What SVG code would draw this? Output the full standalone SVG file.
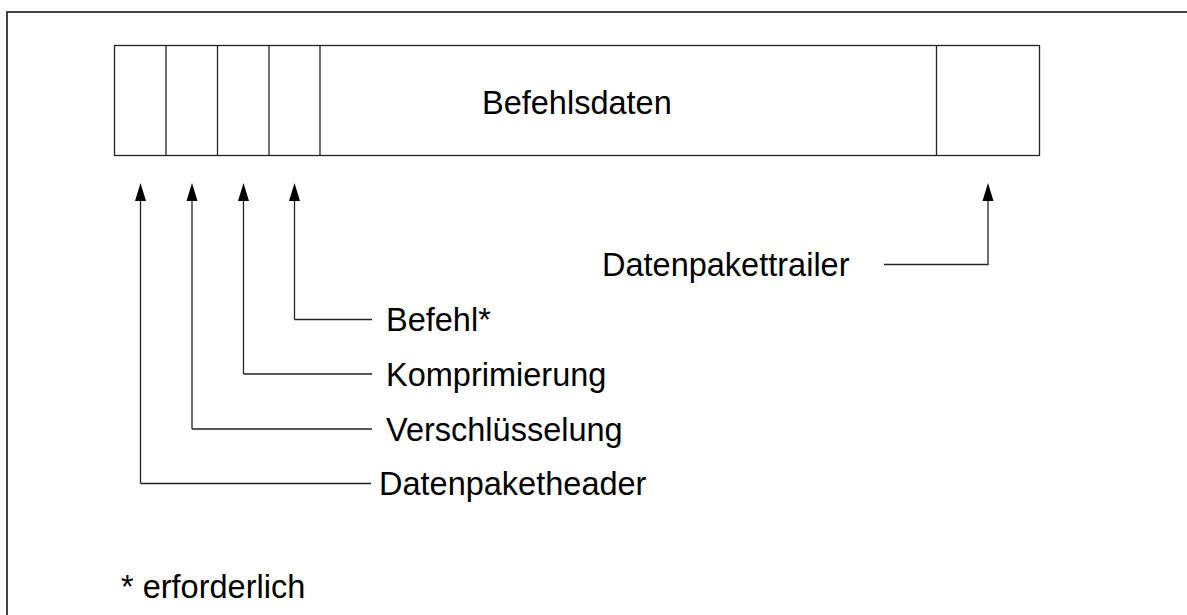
<svg xmlns="http://www.w3.org/2000/svg" width="1187" height="615" viewBox="0 0 1187 615">
<style>
.ln{fill:none;stroke:#222;stroke-width:1.3}
.fr{fill:none;stroke:#444;stroke-width:2}
.t{font-family:"Liberation Sans",Arial,sans-serif;font-size:32.5px;fill:#000}
</style>
<rect width="1187" height="615" fill="#fff"/>
<path class="fr" d="M7,615 V12 H1187"/>
<g id="packet">
<rect class="ln" x="114.5" y="45.5" width="925" height="110"/>
<line class="ln" x1="166" y1="45.5" x2="166" y2="155.5"/>
<line class="ln" x1="217.5" y1="45.5" x2="217.5" y2="155.5"/>
<line class="ln" x1="269" y1="45.5" x2="269" y2="155.5"/>
<line class="ln" x1="320" y1="45.5" x2="320" y2="155.5"/>
<line class="ln" x1="936.5" y1="45.5" x2="936.5" y2="155.5"/>
<text class="t" x="482" y="114">Befehlsdaten</text>
</g>
<g id="connectors">
<path class="ln" d="M140.5,483.5 V200 M140.5,483.5 H371" />
<path class="ln" d="M192,429 V200 M192,429 H372" />
<path class="ln" d="M243.5,374 V200 M243.5,374 H372" />
<path class="ln" d="M294.5,319.5 V200 M294.5,319.5 H372" />
<path class="ln" d="M884,264.5 H988 V200" />
<path d="M135,201 L140.5,183 L146,201 Z M186.5,201 L192,183 L197.5,201 Z M238,201 L243.5,183 L249,201 Z M289,201 L294.5,183 L300,201 Z M982.5,201 L988,183 L993.5,201 Z" fill="#000"/>
</g>
<g id="label-befehl"><text class="t" x="386" y="331">Befehl*</text></g>
<g id="label-komprimierung"><text class="t" x="386" y="386">Komprimierung</text></g>
<g id="label-verschluesselung"><text class="t" x="386" y="441">Verschlüsselung</text></g>
<g id="label-header"><text class="t" x="379" y="495">Datenpaketheader</text></g>
<g id="label-trailer"><text class="t" x="602" y="276">Datenpakettrailer</text></g>
<g id="note"><text class="t" x="121" y="598">* erforderlich</text></g>
</svg>
